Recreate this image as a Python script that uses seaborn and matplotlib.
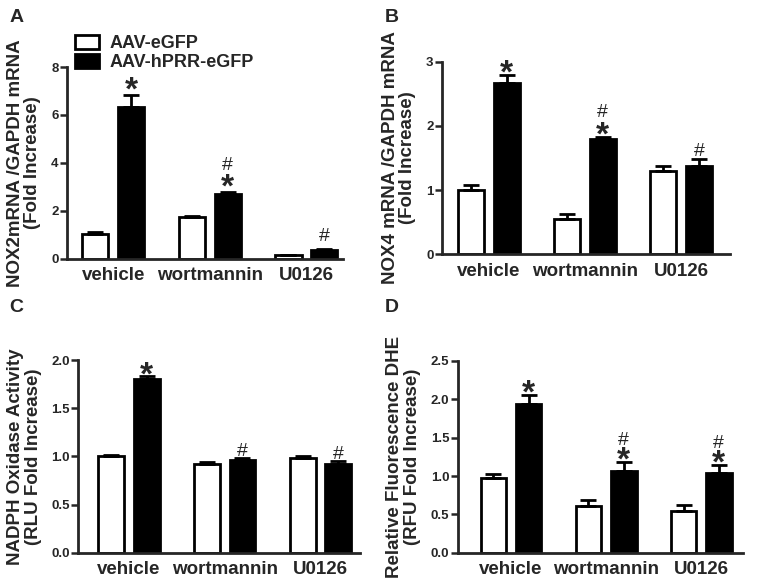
import numpy as np
import pandas as pd
import matplotlib.pyplot as plt
import seaborn as sns
from matplotlib.patches import Patch

groups = ['vehicle', 'wortmannin', 'U0126']
hue_names = ['AAV-eGFP', 'AAV-hPRR-eGFP']

# panel A: NOX2 mRNA
nox2_gfp = [1.05, 1.75, 0.15]
nox2_gfp_err = [0.07, 0.03, 0.02]
nox2_prr = [6.35, 2.70, 0.35]
nox2_prr_err = [0.50, 0.10, 0.05]
nox2_marks = ['*', '#*', '#']

# panel B: NOX4 mRNA
nox4_gfp = [1.00, 0.55, 1.30]
nox4_gfp_err = [0.08, 0.08, 0.08]
nox4_prr = [2.67, 1.80, 1.38]
nox4_prr_err = [0.12, 0.03, 0.10]
nox4_marks = ['*', '#*', '#']

# panel C: NADPH oxidase activity
nadph_gfp = [1.00, 0.92, 0.98]
nadph_gfp_err = [0.02, 0.02, 0.03]
nadph_prr = [1.80, 0.96, 0.92]
nadph_prr_err = [0.03, 0.02, 0.03]
nadph_marks = ['*', '#', '#']

# panel D: DHE fluorescence
dhe_gfp = [0.98, 0.61, 0.54]
dhe_gfp_err = [0.05, 0.08, 0.08]
dhe_prr = [1.93, 1.06, 1.04]
dhe_prr_err = [0.12, 0.12, 0.10]
dhe_marks = ['*', '#*', '#*']

FONT = 'Liberation Sans'


def make_df(gfp, prr):
    return pd.DataFrame({
        'group': groups * 2,
        'virus': [hue_names[0]] * 3 + [hue_names[1]] * 3,
        'value': list(gfp) + list(prr),
    })


def draw_panel(fig, rect, gfp, gfp_err, prr, prr_err, marks, ylim, yticks, ytick_fmt,
               ylabel, xlim, letter, letter_xy, star_dy=-5, hash_dy=13, hash_only_dy=2):
    ax = fig.add_axes(rect)
    df = make_df(gfp, prr)
    sns.barplot(data=df, x='group', y='value', hue='virus', order=groups, hue_order=hue_names,
                palette=['white', 'black'], edgecolor='black', linewidth=2,
                width=0.74, gap=0.27, errorbar=None, legend=False, ax=ax)
    errs = [gfp_err, prr_err]
    tops = []
    for cont, err in zip(ax.containers, errs):
        xs = [p.get_x() + p.get_width() / 2 for p in cont.patches]
        hs = [p.get_height() for p in cont.patches]
        ax.errorbar(xs, hs, yerr=[np.zeros(3), err], fmt='none', ecolor='black',
                    elinewidth=2, capsize=6, capthick=2, zorder=1)
        tops.append([(x, h + e) for x, h, e in zip(xs, hs, err)])
    for i, m in enumerate(marks):
        x, top = tops[1][i]
        off = hash_only_dy
        if '*' in m:
            ax.annotate('*', (x, top), xytext=(0, star_dy), textcoords='offset points',
                        ha='center', va='baseline', fontsize=24, fontweight='bold',
                        family=FONT)
            off = hash_dy
        if '#' in m:
            ax.annotate('#', (x, top), xytext=(0, off), textcoords='offset points',
                        ha='center', va='baseline', fontsize=14, family=FONT)
    ax.set_ylim(*ylim)
    ax.set_xlim(*xlim)
    ax.set_yticks(yticks)
    ax.set_yticklabels([ytick_fmt.format(t) for t in yticks], fontsize=9.5,
                       fontweight='bold', family=FONT)
    ax.set_xticks(range(3))
    ax.set_xticklabels(groups, fontsize=13.5, fontweight='bold', family=FONT)
    ax.tick_params(axis='x', length=0, pad=6)
    ax.tick_params(axis='y', length=5, width=1.8, pad=1)
    ax.set_xlabel('')
    ax.set_ylabel(ylabel, fontsize=13.5, fontweight='bold', family=FONT, labelpad=7,
                  linespacing=1.05)
    sns.despine(ax=ax)
    for s in ['left', 'bottom']:
        ax.spines[s].set_linewidth(2)
    fig.text(letter_xy[0], letter_xy[1], letter, fontsize=14, fontweight='bold',
             family=FONT, ha='left', va='top')
    return ax


sns.set_theme(style='ticks')
plt.rcParams['font.family'] = [FONT, 'DejaVu Sans']

fig = plt.figure(figsize=(7.59, 5.83), dpi=100)

ax_a = draw_panel(fig, [0.088, 0.556, 0.364, 0.329], nox2_gfp, nox2_gfp_err, nox2_prr,
                  nox2_prr_err, nox2_marks, (0, 8), [0, 2, 4, 6, 8], '{:g}',
                  'NOX2mRNA /GAPDH mRNA\n(Fold Increase)', (-0.48, 2.38), 'A', (0.012, 0.985),
                  star_dy=-3.5, hash_dy=15.5, hash_only_dy=6)
draw_panel(fig, [0.582, 0.564, 0.380, 0.330], nox4_gfp, nox4_gfp_err, nox4_prr,
           nox4_prr_err, nox4_marks, (0, 3), [0, 1, 2, 3], '{:g}',
           'NOX4 mRNA /GAPDH mRNA\n(Fold Increase)', (-0.49, 2.51), 'B', (0.507, 0.985),
           star_dy=-5.5, hash_dy=14.5, hash_only_dy=2)
draw_panel(fig, [0.103, 0.0515, 0.371, 0.331], nadph_gfp, nadph_gfp_err, nadph_prr,
           nadph_prr_err, nadph_marks, (0, 2), [0, 0.5, 1.0, 1.5, 2.0], '{:.1f}',
           'NADPH Oxidase Activity\n(RLU Fold Increase)', (-0.53, 2.41), 'C', (0.012, 0.487),
           star_dy=-6, hash_only_dy=1.5)
draw_panel(fig, [0.603, 0.0515, 0.376, 0.330], dhe_gfp, dhe_gfp_err, dhe_prr,
           dhe_prr_err, dhe_marks, (0, 2.5), [0, 0.5, 1.0, 1.5, 2.0, 2.5], '{:.1f}',
           'Relative Fluorescence DHE\n(RFU Fold Increase)', (-0.56, 2.44), 'D', (0.507, 0.487),
           star_dy=-5.5, hash_dy=12.5)

handles = [Patch(facecolor='white', edgecolor='black', linewidth=2),
           Patch(facecolor='black', edgecolor='black', linewidth=2)]
ax_a.legend(handles, hue_names, loc='upper left', bbox_to_anchor=(0.03, 1.165), frameon=False,
            prop={'family': FONT, 'weight': 'bold', 'size': 13}, handlelength=1.3,
            handleheight=0.75, labelspacing=0.1, handletextpad=0.6, borderaxespad=0,
            borderpad=0)

fig.savefig('out.png', dpi=100)
